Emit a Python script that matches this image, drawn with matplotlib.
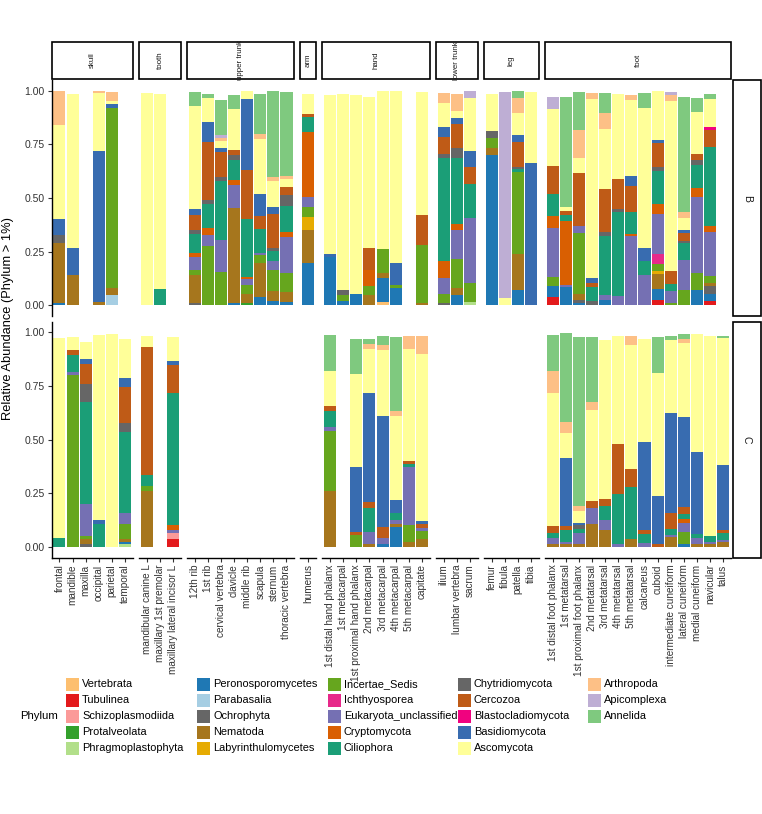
import matplotlib.pyplot as plt
from matplotlib.patches import Rectangle

plt.rcParams['font.family'] = ['Liberation Sans', 'DejaVu Sans']

# phyla in legend order (also bottom -> top stacking order)
phyla = ['Vertebrata', 'Tubulinea', 'Schizoplasmodiida', 'Protalveolata', 'Phragmoplastophyta',
         'Peronosporomycetes', 'Parabasalia', 'Ochrophyta', 'Nematoda', 'Labyrinthulomycetes',
         'Incertae_Sedis', 'Ichthyosporea', 'Eukaryota_unclassified', 'Cryptomycota', 'Ciliophora',
         'Chytridiomycota', 'Cercozoa', 'Blastocladiomycota', 'Basidiomycota', 'Ascomycota',
         'Arthropoda', 'Apicomplexa', 'Annelida']
codes = ['Ver', 'Tub', 'Sch', 'Pro', 'Phr', 'Per', 'Par', 'Och', 'Nem', 'Lab', 'Inc', 'Ich',
         'Euk', 'Cry', 'Cil', 'Chy', 'Cer', 'Bla', 'Bas', 'Asc', 'Art', 'Api', 'Ann']
colors = ['#FDBF6F', '#E31A1C', '#FB9A99', '#33A02C', '#B2DF8A', '#1F78B4', '#A6CEE3', '#666666',
          '#A6761D', '#E6AB02', '#66A61E', '#E7298A', '#7570B3', '#D95F02', '#1B9E77', '#666666',
          '#BF5B17', '#F0027F', '#386CB0', '#FFFF99', '#FDC086', '#BEAED4', '#7FC97F']

skull = ['frontal', 'mandible', 'maxilla', 'occipital', 'parietal', 'temporal']
tooth = ['mandibular canine L', 'maxillary 1st premolar', 'maxillary lateral incisor L']
upper_trunk = ['12th rib', '1st rib', 'cervical vertebra', 'clavicle', 'middle rib', 'scapula',
               'sternum', 'thoracic vertebra']
arm = ['humerus']
hand = ['1st distal hand phalanx', '1st metacarpal', '1st proximal hand phalanx', '2nd metacarpal',
        '3rd metacarpal', '4th metacarpal', '5th metacarpal', 'capitate']
lower_trunk = ['ilium', 'lumbar vertebra', 'sacrum']
leg = ['femur', 'fibula', 'patella', 'tibia']
foot = ['1st distal foot phalanx', '1st metatarsal', '1st proximal foot phalanx', '2nd metatarsal',
        '3rd metatarsal', '4th metatarsal', '5th metatarsal', 'calcaneus', 'cuboid',
        'intermediate cuneiform', 'lateral cuneiform', 'medial cuneiform', 'navicular', 'talus']
regions = [('skull', skull), ('tooth', tooth), ('upper trunk', upper_trunk), ('arm', arm),
           ('hand', hand), ('lower trunk', lower_trunk), ('leg', leg), ('foot', foot)]

# relative abundance per bone, site B
abund_B = {
    'frontal': {'Per': .012, 'Nem': .276, 'Chy': .039, 'Bas': .075, 'Asc': .436, 'Art': .16},
    'mandible': {'Nem': .14, 'Bas': .128, 'Asc': .718},
    'occipital': {'Nem': .016, 'Bas': .701, 'Asc': .273, 'Art': .008},
    'parietal': {'Par': .05, 'Nem': .031, 'Inc': .838, 'Bas': .019, 'Asc': .016, 'Art': .04},
    'mandibular canine L': {'Asc': .99},
    'maxillary 1st premolar': {'Cil': .076, 'Asc': .91},
    '12th rib': {'Och': .012, 'Nem': .128, 'Inc': .023, 'Euk': .062, 'Cry': .02, 'Cil': .089,
                 'Chy': .016, 'Cer': .07, 'Bas': .031, 'Asc': .478, 'Ann': .064},
    '1st rib': {'Inc': .277, 'Euk': .05, 'Cry': .034, 'Cil': .109, 'Chy': .02, 'Cer': .273,
                'Bas': .093, 'Asc': .112, 'Ann': .016},
    'cervical vertebra': {'Inc': .153, 'Euk': .151, 'Cil': .276, 'Chy': .019, 'Cer': .115,
                          'Bas': .019, 'Asc': .034, 'Art': .012, 'Api': .016, 'Ann': .16},
    'clavicle': {'Per': .011, 'Nem': .444, 'Euk': .106, 'Cry': .022, 'Cil': .093, 'Chy': .025,
                 'Cer': .023, 'Asc': .192, 'Ann': .065},
    'middle rib': {'Pro': .012, 'Nem': .042, 'Inc': .042, 'Euk': .025, 'Cry': .011, 'Cil': .27,
                   'Cer': .229, 'Bas': .33, 'Asc': .037},
    'scapula': {'Per': .039, 'Nem': .16, 'Inc': .034, 'Euk': .012, 'Cil': .112, 'Cer': .058,
                'Bas': .103, 'Asc': .257, 'Art': .022, 'Ann': .19},
    'sternum': {'Per': .022, 'Nem': .044, 'Inc': .098, 'Euk': .044, 'Cil': .047, 'Chy': .011,
                'Cer': .16, 'Bas': .03, 'Asc': .125, 'Art': .019, 'Ann': .398},
    'thoracic vertebra': {'Per': .016, 'Nem': .047, 'Inc': .089, 'Euk': .168, 'Cry': .02,
                          'Cil': .123, 'Chy': .051, 'Cer': .036, 'Asc': .039, 'Art': .014,
                          'Ann': .389},
    'humerus': {'Per': .198, 'Nem': .153, 'Lab': .062, 'Inc': .045, 'Euk': .048, 'Cry': .30,
                'Cil': .073, 'Cer': .012, 'Asc': .095},
    '1st distal hand phalanx': {'Per': .226, 'Bas': .012, 'Asc': .74},
    '1st metacarpal': {'Per': .022, 'Inc': .028, 'Chy': .019, 'Asc': .917},
    '1st proximal hand phalanx': {'Per': .053, 'Asc': .928},
    '2nd metacarpal': {'Nem': .047, 'Inc': .044, 'Cry': .073, 'Cer': .104, 'Asc': .704},
    '3rd metacarpal': {'Ver': .016, 'Per': .112, 'Nem': .023, 'Inc': .109, 'Asc': .738},
    '4th metacarpal': {'Per': .081, 'Inc': .012, 'Bas': .104, 'Asc': .8},
    'capitate': {'Nem': .012, 'Inc': .268, 'Cer': .143, 'Asc': .57},
    'ilium': {'Och': .012, 'Inc': .042, 'Euk': .073, 'Cry': .079, 'Cil': .481, 'Chy': .016,
              'Cer': .079, 'Bas': .05, 'Asc': .109, 'Art': .047},
    'lumbar vertebra': {'Per': .05, 'Nem': .031, 'Inc': .136, 'Euk': .132, 'Cry': .031,
                        'Cil': .308, 'Chy': .047, 'Cer': .109, 'Bas': .031, 'Asc': .031,
                        'Art': .079},
    'sacrum': {'Phr': .016, 'Inc': .089, 'Euk': .304, 'Cil': .156, 'Cer': .081, 'Bas': .075,
               'Asc': .243, 'Api': .036},
    'femur': {'Per': .701, 'Nem': .031, 'Inc': .047, 'Chy': .031, 'Asc': .175},
    'fibula': {'Asc': .034, 'Api': .96},
    'patella': {'Per': .073, 'Nem': .168, 'Inc': .382, 'Cil': .012, 'Chy': .011, 'Cer': .117,
                'Bas': .031, 'Asc': .104, 'Art': .07, 'Ann': .031},
    'tibia': {'Bas': .665, 'Asc': .329},
    '1st distal foot phalanx': {'Tub': .039, 'Per': .051, 'Inc': .042, 'Euk': .229, 'Cry': .056,
                                'Cil': .101, 'Cer': .131, 'Asc': .265, 'Api': .055},
    '1st metatarsal': {'Per': .084, 'Euk': .012, 'Cry': .299, 'Cil': .025, 'Cer': .019,
                       'Asc': .017, 'Ann': .517},
    '1st proximal foot phalanx': {'Per': .011, 'Och': .012, 'Nem': .028, 'Inc': .288, 'Euk': .031,
                                  'Cer': .248, 'Asc': .07, 'Art': .129, 'Ann': .179},
    '2nd metatarsal': {'Och': .019, 'Cil': .067, 'Cer': .016, 'Bas': .023, 'Asc': .836,
                       'Art': .028},
    '3rd metatarsal': {'Per': .023, 'Euk': .023, 'Cil': .277, 'Chy': .019, 'Cer': .198,
                       'Asc': .282, 'Art': .076, 'Ann': .093},
    '4th metatarsal': {'Euk': .044, 'Cil': .389, 'Chy': .016, 'Cer': .139, 'Asc': .397},
    '5th metatarsal': {'Euk': .322, 'Cry': .011, 'Cil': .1, 'Cer': .123, 'Bas': .047, 'Asc': .355,
                       'Art': .02},
    'calcaneus': {'Euk': .14, 'Cil': .065, 'Bas': .062, 'Asc': .651, 'Ann': .07},
    'cuboid': {'Tub': .023, 'Per': .051, 'Nem': .073, 'Lab': .012, 'Inc': .034, 'Ich': .044,
               'Euk': .19, 'Cry': .047, 'Cil': .153, 'Chy': .019, 'Cer': .109, 'Bas': .016,
               'Asc': .228},
    'intermediate cuneiform': {'Inc': .012, 'Euk': .053, 'Cil': .033, 'Cer': .061, 'Asc': .794,
                               'Art': .028, 'Api': .012},
    'lateral cuneiform': {'Inc': .07, 'Euk': .14, 'Cil': .078, 'Chy': .012, 'Cer': .039,
                          'Bas': .011, 'Asc': .055, 'Art': .028, 'Ann': .54},
    'medial cuneiform': {'Per': .073, 'Inc': .078, 'Euk': .352, 'Cry': .042, 'Cil': .109,
                         'Chy': .023, 'Cer': .028, 'Asc': .198, 'Ann': .062},
    'navicular': {'Tub': .02, 'Per': .031, 'Och': .037, 'Nem': .014, 'Inc': .033, 'Euk': .207,
                  'Cry': .028, 'Cil': .37, 'Cer': .078, 'Bla': .012, 'Asc': .132, 'Ann': .023},
}

# relative abundance per bone, site C
abund_C = {
    'frontal': {'Cil': .039, 'Asc': .933},
    'mandible': {'Inc': .802, 'Euk': .012, 'Cil': .08, 'Cer': .022, 'Asc': .063},
    'maxilla': {'Och': .011, 'Nem': .026, 'Inc': .015, 'Euk': .147, 'Cil': .476, 'Chy': .085,
                'Cer': .093, 'Bas': .023, 'Asc': .08},
    'occipital': {'Cil': .107, 'Bas': .02, 'Asc': .858},
    'parietal': {'Asc': .994},
    'temporal': {'Phr': .011, 'Per': .011, 'Nem': .012, 'Inc': .073, 'Euk': .049, 'Cil': .38,
                 'Chy': .039, 'Cer': .168, 'Bas': .042, 'Asc': .185},
    'mandibular canine L': {'Nem': .258, 'Inc': .023, 'Cil': .054, 'Cer': .598, 'Asc': .051},
    'maxillary lateral incisor L': {'Tub': .034, 'Sch': .031, 'Euk': .015, 'Cry': .02, 'Cil': .617,
                                    'Cer': .128, 'Bas': .023, 'Asc': .108},
    '1st distal hand phalanx': {'Nem': .261, 'Inc': .28, 'Euk': .019, 'Cil': .073, 'Cer': .023,
                                'Asc': .164, 'Ann': .165},
    '1st proximal hand phalanx': {'Inc': .057, 'Cer': .012, 'Bas': .301, 'Asc': .436,
                                  'Ann': .162},
    '2nd metacarpal': {'Nem': .014, 'Euk': .054, 'Cil': .113, 'Cer': .026, 'Bas': .512,
                       'Asc': .204, 'Art': .023, 'Ann': .023},
    '3rd metacarpal': {'Per': .011, 'Euk': .028, 'Cer': .053, 'Bas': .518, 'Asc': .306,
                       'Art': .023, 'Ann': .043},
    '4th metacarpal': {'Per': .091, 'Nem': .015, 'Euk': .02, 'Cil': .031, 'Bas': .059,
                       'Asc': .393, 'Art': .025, 'Ann': .346},
    '5th metacarpal': {'Nem': .022, 'Inc': .079, 'Euk': .27, 'Cil': .014, 'Cer': .017,
                       'Asc': .521, 'Art': .059},
    'capitate': {'Nem': .037, 'Inc': .036, 'Euk': .015, 'Cer': .019, 'Bas': .015, 'Asc': .777,
                 'Art': .082},
    '1st distal foot phalanx': {'Nem': .014, 'Euk': .028, 'Cil': .023, 'Cer': .034, 'Asc': .62,
                                'Art': .099, 'Ann': .167},
    '1st metatarsal': {'Nem': .014, 'Euk': .008, 'Cil': .054, 'Cer': .02, 'Bas': .317,
                       'Asc': .119, 'Art': .048, 'Ann': .416},
    '1st proximal foot phalanx': {'Nem': .014, 'Euk': .048, 'Cil': .019, 'Chy': .02, 'Bas': .011,
                                  'Asc': .054, 'Art': .023, 'Ann': .788},
    '2nd metatarsal': {'Nem': .108, 'Euk': .073, 'Cer': .031, 'Asc': .425, 'Art': .036,
                       'Ann': .304},
    '3rd metatarsal': {'Nem': .08, 'Euk': .046, 'Cil': .062, 'Cer': .034, 'Asc': .743},
    '4th metatarsal': {'Euk': .014, 'Cil': .232, 'Cer': .233, 'Asc': .505},
    '5th metatarsal': {'Nem': .037, 'Cil': .241, 'Cer': .083, 'Asc': .58, 'Art': .04},
    'calcaneus': {'Euk': .019, 'Cil': .042, 'Cer': .015, 'Bas': .411, 'Asc': .482},
    'cuboid': {'Cer': .014, 'Bas': .221, 'Asc': .576, 'Ann': .165},
    'intermediate cuneiform': {'Nem': .045, 'Euk': .012, 'Cil': .026, 'Cer': .074, 'Bas': .468,
                               'Asc': .34, 'Ann': .019},
    'lateral cuneiform': {'Per': .011, 'Inc': .059, 'Euk': .039, 'Cry': .019, 'Cil': .023,
                          'Cer': .034, 'Bas': .419, 'Asc': .346, 'Art': .02, 'Ann': .02},
    'medial cuneiform': {'Nem': .015, 'Euk': .026, 'Cil': .02, 'Bas': .379, 'Asc': .552},
    'navicular': {'Nem': .014, 'Euk': .009, 'Cil': .029, 'Asc': .932},
    'talus': {'Nem': .022, 'Euk': .011, 'Cil': .032, 'Cer': .015, 'Bas': .301, 'Asc': .59,
              'Ann': .012},
}

W, H = 762, 814
fig = plt.figure(figsize=(W / 100, H / 100), dpi=100)


def fx(px):
    return px / W


def fy(py):
    return 1 - py / H


unit, gap, x0 = 13.1, 6.1, 51.6
rows = [('B', abund_B, 80, 316), ('C', abund_C, 321.5, 557.5)]
tick_col = '#333333'

left = x0
for region, bones in regions:
    n = len(bones)
    width = (n + 0.2) * unit
    for ri, (site, data, top, bot) in enumerate(rows):
        ax = fig.add_axes([fx(left), fy(bot), width / W, (bot - top) / H])
        for i, bone in enumerate(bones):
            vals = data.get(bone, {})
            base = 0.0
            for code, col in zip(codes, colors):
                v = vals.get(code, 0)
                if v > 0:
                    ax.bar(i, v, bottom=base, width=0.92, color=col, linewidth=0)
                    base += v
        ax.set_xlim(-0.6, n - 0.4)
        ax.set_ylim(-0.05, 1.05)
        for s in ['top', 'right']:
            ax.spines[s].set_visible(False)
        ax.spines['left'].set_visible(region == 'skull')
        ax.spines['bottom'].set_visible(site == 'C')
        ax.spines['left'].set_linewidth(1.0)
        ax.spines['bottom'].set_linewidth(1.0)
        ax.patch.set_alpha(0)
        if region == 'skull':
            ax.set_yticks([0, 0.25, 0.5, 0.75, 1.0])
            ax.set_yticklabels(['0.00', '0.25', '0.50', '0.75', '1.00'])
            ax.tick_params(axis='y', labelsize=7.5, length=3, color=tick_col, labelcolor=tick_col,
                           pad=2)
        else:
            ax.set_yticks([])
        if site == 'C':
            ax.set_xticks(range(n))
            ax.set_xticklabels(bones, rotation=90, va='top', ha='center')
            ax.tick_params(axis='x', labelsize=7.2, length=3, color=tick_col, labelcolor=tick_col,
                           pad=2)
        else:
            ax.set_xticks([])
    # top strip
    fig.add_artist(Rectangle((fx(left), fy(78.5)), width / W, 36 / H, transform=fig.transFigure,
                             fill=False, ec='black', lw=1.2))
    fig.text(fx(left + width / 2), fy(60.5), region, rotation=90, ha='center', va='center',
             fontsize=5.7, color='#1a1a1a')
    left += width + gap

# right strips
for site, data, top, bot in rows:
    fig.add_artist(Rectangle((fx(733), fy(bot)), 28 / W, (bot - top) / H,
                             transform=fig.transFigure, fill=False, ec='black', lw=1.2))
    fig.text(fx(747), fy((top + bot) / 2), site, rotation=-90, ha='center', va='center',
             fontsize=7.5, color='#1a1a1a')

fig.text(fx(8), fy(319), 'Relative Abundance (Phylum > 1%)', rotation=90, ha='center',
         va='center', fontsize=9.3)

# legend, filled column by column like ggplot
key_x = [66, 197, 328, 458, 588]
row_y = [684, 700, 716, 732, 748]
fig.text(fx(20), fy(716), 'Phylum', ha='left', va='center', fontsize=8.2)
for k, (name, col) in enumerate(zip(phyla, colors)):
    c, r = divmod(k, 5)
    fig.add_artist(Rectangle((fx(key_x[c]), fy(row_y[r] + 6.5)), 13 / W, 13 / H,
                             transform=fig.transFigure, fc=col, ec='none'))
    fig.text(fx(key_x[c] + 16), fy(row_y[r]), name, ha='left', va='center', fontsize=7.9)

fig.savefig('out.png', dpi=100)
